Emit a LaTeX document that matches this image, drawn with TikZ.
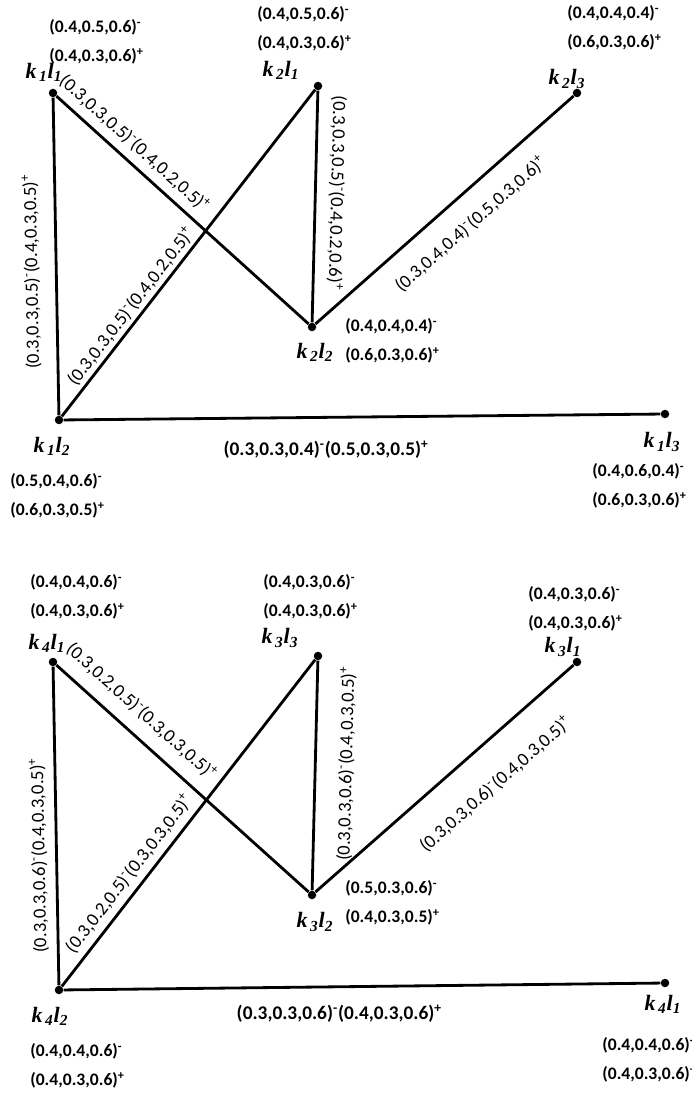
\documentclass[tikz,border=0pt]{standalone}
\usepackage{fontspec}
\setmainfont{Carlito}
\newfontfamily\kfont{Liberation Serif}
\usetikzlibrary{positioning}

\newcommand{\kl}[2]{k\textsubscript{\,#1}l\textsubscript{#2}}
\newcommand{\mneg}{\textsuperscript{-}}
\newcommand{\mpos}{\textsuperscript{+}}

\begin{document}
\begin{tikzpicture}[
  x=0.02cm, y=-0.02cm,
  dot/.style={circle, fill=black, inner sep=0pt, minimum size=0.17cm},
  link/.style={line width=1.6pt},
  nm/.style={font=\kfont\fontsize{12.5}{14}\selectfont\bfseries\itshape, inner sep=0pt},
  val/.style={font=\fontsize{10}{16.5}\selectfont\bfseries, align=left, anchor=west, inner sep=0pt},
  elab/.style={font=\fontsize{10.6}{13}\selectfont, inner sep=0pt, sloped},
  hlab/.style={font=\fontsize{11}{13}\selectfont\bfseries, inner sep=0pt}
]
\useasboundingbox (0,0) rectangle (691,1097);

% upper graph
\node[dot] (k1l1) at (53,93) {};
\node[dot] (k2l1) at (318,86) {};
\node[dot] (k2l3) at (577,93) {};
\node[dot] (k2l2) at (312,327) {};
\node[dot] (k1l2) at (59,420) {};
\node[dot] (k1l3) at (665,414) {};

\node[nm] (n11) at (44,72) {\kl{1}{1}};
\node[nm] (n21) at (281,70) {\kl{2}{1}};
\node[nm] (n23) at (567,79) {\kl{2}{3}};
\node[nm] (n22) at (315,352) {\kl{2}{2}};
\node[nm] (n12) at (52,446) {\kl{1}{2}};
\node[nm] (n13) at (662,442) {\kl{1}{3}};

\node[val] (v11) at (49,42) {(0.4,0.5,0.6)\mneg\\(0.4,0.3,0.6)\mpos};
\node[val] (v21) at (257,29) {(0.4,0.5,0.6)\mneg\\(0.4,0.3,0.6)\mpos};
\node[val] (v23) at (567,28) {(0.4,0.4,0.4)\mneg\\(0.6,0.3,0.6)\mpos};
\node[val] (v22) at (345,341) {(0.4,0.4,0.4)\mneg\\(0.6,0.3,0.6)\mpos};
\node[val] (v12) at (10,496) {(0.5,0.4,0.6)\mneg\\(0.6,0.3,0.5)\mpos};
\node[val] (v13) at (592,486) {(0.4,0.6,0.4)\mneg\\(0.6,0.3,0.6)\mpos};

\draw[link] (k1l2) -- (k1l1) node[elab, pos=0.454, allow upside down, yshift=14pt] {(0.3,0.3,0.5)\mneg(0.4,0.3,0.5)\mpos};
\draw[link] (k1l1) -- (k2l2) node[elab, pos=0.264, yshift=9.8pt] {(0.3,0.3,0.5)\mneg(0.4,0.2,0.5)\mpos};
\draw[link] (k1l2) -- (k2l1) node[elab, pos=0.313, yshift=7.3pt] {(0.3,0.3,0.5)\mneg(0.4,0.2,0.5)\mpos};
\draw[link] (k2l1) -- (k2l2) node[elab, pos=0.44, allow upside down, yshift=12.3pt] {(0.3,0.3,0.5)\mneg(0.4,0.2,0.6)\mpos};
\draw[link] (k2l2) -- (k2l3) node[elab, pos=0.53, yshift=-15.9pt] {(0.3,0.4,0.4)\mneg(0.5,0.3,0.6)\mpos};
\draw[link] (k1l2) -- (k1l3) node[hlab, pos=0.44, yshift=-18.2pt] {(0.3,0.3,0.4)\mneg(0.5,0.3,0.5)\mpos};

% lower graph
\node[dot] (k4l1) at (53,662) {};
\node[dot] (k3l3) at (318,656) {};
\node[dot] (k3l1) at (577,662) {};
\node[dot] (k3l2) at (312,895) {};
\node[dot] (k4l2) at (59,990) {};
\node[dot] (k4l1b) at (665,983) {};

\node[nm] (n41) at (47,643) {\kl{4}{1}};
\node[nm] (n33) at (280,638) {\kl{3}{3}};
\node[nm] (n31) at (563,647) {\kl{3}{1}};
\node[nm] (n32) at (315,922) {\kl{3}{2}};
\node[nm] (n42) at (50,1016) {\kl{4}{2}};
\node[nm] (n41b) at (663,1004) {\kl{4}{1}};

\node[val] (v41) at (30,597) {(0.4,0.4,0.6)\mneg\\(0.4,0.3,0.6)\mpos};
\node[val] (v33) at (263,597) {(0.4,0.3,0.6)\mneg\\(0.4,0.3,0.6)\mpos};
\node[val] (v31) at (528,609) {(0.4,0.3,0.6)\mneg\\(0.4,0.3,0.6)\mpos};
\node[val] (v32) at (345,903) {(0.5,0.3,0.6)\mneg\\(0.4,0.3,0.5)\mpos};
\node[val] (v42) at (30,1066) {(0.4,0.4,0.6)\mneg\\(0.4,0.3,0.6)\mpos};
\node[val] (v41b) at (602,1060) {(0.4,0.4,0.6)\mneg\\(0.4,0.3,0.6)\mpos};

\draw[link] (k4l2) -- (k4l1) node[elab, pos=0.409, allow upside down, yshift=10pt] {(0.3,0.3,0.6)\mneg(0.4,0.3,0.5)\mpos};
\draw[link] (k4l1) -- (k3l2) node[elab, pos=0.278, yshift=12.8pt] {(0.3,0.2,0.5)\mneg(0.3,0.3,0.5)\mpos};
\draw[link] (k4l2) -- (k3l3) node[elab, pos=0.315, yshift=9.1pt] {(0.3,0.2,0.5)\mneg(0.3,0.3,0.5)\mpos};
\draw[link] (k3l2) -- (k3l3) node[elab, pos=0.556, yshift=-17.6pt] {(0.3,0.3,0.6)\mneg(0.4,0.3,0.5)\mpos};
\draw[link] (k3l2) -- (k3l1) node[elab, pos=0.6, yshift=-21.6pt] {(0.3,0.3,0.6)\mneg(0.4,0.3,0.5)\mpos};
\draw[link] (k4l2) -- (k4l1b) node[hlab, pos=0.462, yshift=-15.4pt] {(0.3,0.3,0.6)\mneg(0.4,0.3,0.6)\mpos};

\end{tikzpicture}
\end{document}
